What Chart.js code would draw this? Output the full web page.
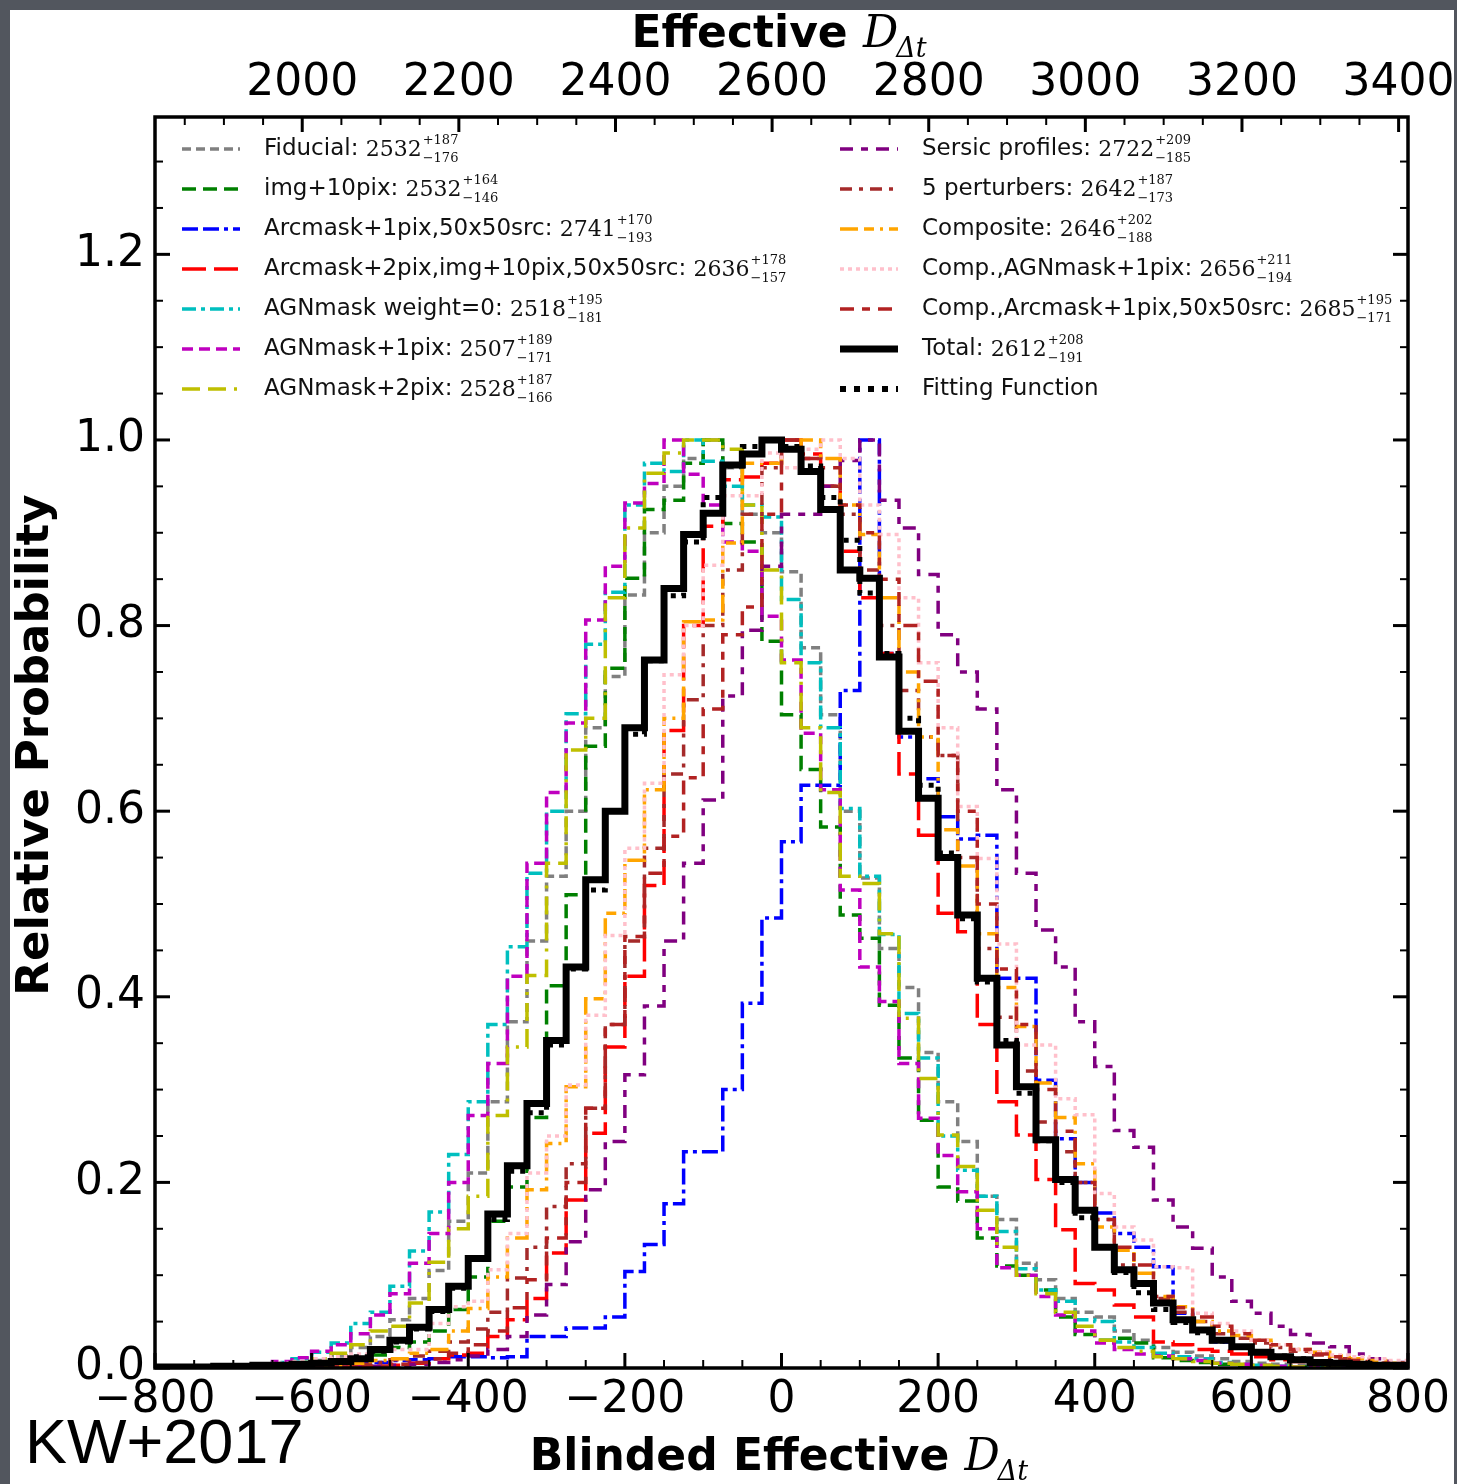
<!DOCTYPE html>
<html>
<head>
<meta charset="utf-8">
<script src="https://cdn.jsdelivr.net/npm/chart.js@4.4.1/dist/chart.umd.min.js"></script>
<style>
  html, body { margin: 0; padding: 0; background: #52565e; }
  body { width: 1457px; height: 1484px; position: relative; overflow: hidden; }
  #wrap { position: absolute; left: 10px; top: 10px; width: 1444px; height: 1474px; background: #fff; }
  canvas { display: block; }
</style>
</head>
<body>
<div id="wrap"><canvas id="dtChart" width="1444" height="1474"></canvas></div>
<script>
// histogram bins: 64 bins of 25 from -800 to 800 (blinded effective D_dt)
const binStart = -800;
const binWidth = 25;
const blindOffset = 2612; // top axis = blinded value + offset

const xTickValues = [-800, -600, -400, -200, 0, 200, 400, 600, 800];
const yTickValues = [0, 0.2, 0.4, 0.6, 0.8, 1.0, 1.2];
const topTickLabels = [2000, 2200, 2400, 2600, 2800, 3000, 3200, 3400];

// relative probability per bin
const fiducial = [0,0,0,0.001,0.001,0.002,0.003,0.005, 0.008,0.013,0.022,0.034,0.052,0.075,0.105,0.158,
  0.21,0.287,0.373,0.46,0.53,0.6,0.69,0.745, 0.833,0.9,0.95,0.98,1.0,0.97,0.92,0.9,
  0.858,0.776,0.704,0.6,0.528,0.452,0.41,0.34, 0.287,0.244,0.185,0.16,0.113,0.095,0.075,0.06,
  0.055,0.04,0.03,0.022,0.017,0.013,0.01,0.007, 0.005,0.004,0.003,0.002,0.001,0.001,0.001,0];
const img10pix = [0,0,0,0,0.001,0.001,0.002,0.003, 0.004,0.006,0.009,0.014,0.022,0.028,0.04,0.063,
  0.098,0.158,0.195,0.27,0.412,0.51,0.67,0.754, 0.851,0.925,0.935,0.975,1.0,0.91,0.89,0.783,
  0.704,0.645,0.583,0.488,0.463,0.391,0.334,0.267, 0.195,0.18,0.14,0.11,0.1,0.084,0.055,0.036,
  0.03,0.032,0.027,0.011,0.008,0.006,0.004,0.003, 0.002,0.001,0.001,0,0,0,0,0];
const arcmask1 = [0,0,0,0,0,0,0,0.001, 0.002,0.003,0.005,0.006,0.008,0.009,0.01,0.012,
  0.012,0.011,0.012,0.034,0.034,0.043,0.043,0.055, 0.104,0.133,0.177,0.233,0.233,0.3,0.393,0.485,
  0.567,0.628,0.628,0.73,1.0,0.77,0.68,0.635, 0.594,0.57,0.574,0.42,0.42,0.31,0.247,0.2,
  0.167,0.145,0.13,0.109,0.059,0.04,0.028,0.022, 0.016,0.011,0.008,0.005,0.004,0.002,0.001,0];
const arcmask2 = [0,0,0,0,0,0,0,0, 0.001,0.001,0.001,0.002,0.003,0.005,0.01,0.014,
  0.016,0.034,0.052,0.075,0.124,0.181,0.253,0.346, 0.422,0.52,0.687,0.8,0.907,0.957,0.96,0.975,
  1.0,0.985,0.95,0.88,0.83,0.77,0.64,0.574, 0.49,0.47,0.37,0.287,0.251,0.203,0.149,0.091,
  0.084,0.068,0.055,0.028,0.025,0.02,0.018,0.015, 0.012,0.009,0.007,0.005,0.004,0.003,0.002,0.001];
const agnWeight0 = [0,0,0,0.001,0.002,0.004,0.006,0.01, 0.017,0.027,0.048,0.06,0.088,0.126,0.168,0.23,
  0.287,0.37,0.454,0.533,0.6,0.705,0.78,0.836, 0.93,0.975,0.966,1.0,0.977,0.95,0.93,0.917,
  0.828,0.76,0.69,0.603,0.53,0.467,0.382,0.334, 0.25,0.213,0.185,0.147,0.107,0.084,0.072,0.052,
  0.05,0.028,0.022,0.016,0.012,0.01,0.006,0.004, 0.003,0.002,0.001,0.001,0,0,0,0];
const agnMask1 = [0,0,0,0.001,0.002,0.004,0.007,0.011, 0.018,0.025,0.037,0.057,0.08,0.113,0.145,0.2,
  0.272,0.328,0.422,0.544,0.62,0.695,0.806,0.864, 0.932,0.953,1.0,0.963,0.93,0.89,0.88,0.81,
  0.763,0.684,0.623,0.515,0.432,0.395,0.328,0.269, 0.229,0.19,0.15,0.108,0.1,0.077,0.057,0.04,
  0.027,0.02,0.015,0.013,0.01,0.008,0.005,0.004, 0.003,0.002,0.001,0.001,0,0,0,0];
const agnMask2 = [0,0,0,0,0.001,0.002,0.004,0.006, 0.01,0.016,0.025,0.04,0.045,0.07,0.114,0.15,
  0.185,0.272,0.346,0.423,0.544,0.666,0.7,0.83, 0.905,0.964,0.986,1.0,1.0,0.99,0.93,0.86,
  0.76,0.69,0.62,0.53,0.522,0.468,0.377,0.312, 0.251,0.217,0.17,0.13,0.1,0.08,0.06,0.045,
  0.03,0.022,0.018,0.012,0.01,0.007,0.005,0.004, 0.003,0.002,0.001,0.001,0,0,0,0];
const sersic = [0,0,0,0,0,0,0,0, 0,0.001,0.001,0.002,0.003,0.004,0.006,0.009,
  0.013,0.02,0.034,0.057,0.09,0.136,0.192,0.244, 0.316,0.39,0.46,0.544,0.612,0.724,0.795,0.864,
  0.92,0.92,0.95,0.978,1.0,0.935,0.905,0.855, 0.79,0.75,0.71,0.623,0.533,0.472,0.432,0.373,
  0.325,0.256,0.238,0.181,0.152,0.129,0.098,0.072, 0.059,0.045,0.036,0.027,0.023,0.015,0.01,0.006];
const perturbers5 = [0,0,0,0,0,0,0.001,0.001, 0.002,0.003,0.004,0.006,0.009,0.013,0.018,0.028,
  0.042,0.06,0.097,0.13,0.174,0.22,0.28,0.37, 0.46,0.56,0.64,0.72,0.8,0.86,0.92,0.97,
  1.0,0.98,0.95,0.92,0.86,0.8,0.73,0.68, 0.66,0.55,0.452,0.378,0.32,0.265,0.233,0.2,
  0.16,0.111,0.09,0.075,0.06,0.05,0.037,0.032, 0.027,0.022,0.018,0.014,0.01,0.007,0.005,0.003];
const composite = [0,0,0,0,0,0,0.001,0.001, 0.002,0.003,0.005,0.008,0.01,0.016,0.02,0.04,
  0.064,0.098,0.14,0.192,0.242,0.303,0.398,0.49, 0.547,0.623,0.7,0.804,0.806,0.889,0.975,0.975,
  0.99,1.0,0.98,0.93,0.898,0.83,0.75,0.68, 0.58,0.541,0.468,0.41,0.368,0.307,0.27,0.22,
  0.152,0.127,0.102,0.077,0.066,0.05,0.04,0.035, 0.03,0.025,0.02,0.017,0.013,0.01,0.008,0.005];
const compAgn1 = [0,0,0,0.001,0.002,0.003,0.005,0.007, 0.01,0.012,0.015,0.018,0.02,0.02,0.048,0.066,
  0.072,0.106,0.145,0.21,0.25,0.305,0.38,0.466, 0.56,0.63,0.747,0.8,0.865,0.94,0.94,0.986,
  0.97,0.99,1.0,0.98,0.93,0.898,0.83,0.76, 0.69,0.605,0.549,0.457,0.348,0.348,0.29,0.273,
  0.188,0.152,0.138,0.109,0.108,0.059,0.048,0.04, 0.03,0.025,0.02,0.017,0.014,0.012,0.01,0.008];
const compArc1 = [0,0,0,0,0,0,0,0, 0.001,0.001,0.001,0.002,0.004,0.006,0.01,0.016,
  0.025,0.04,0.065,0.095,0.14,0.2,0.28,0.37, 0.465,0.533,0.573,0.636,0.71,0.79,0.82,0.92,
  1.0,0.98,0.97,0.93,0.9,0.85,0.8,0.74, 0.66,0.6,0.5,0.43,0.37,0.3,0.255,0.2,
  0.16,0.13,0.111,0.077,0.065,0.055,0.045,0.037, 0.03,0.025,0.02,0.015,0.012,0.008,0.005,0.003];
const total = [0.001,0.001,0.001,0.002,0.002,0.003,0.003,0.004, 0.005,0.007,0.01,0.02,0.03,0.044,0.063,0.088,
  0.118,0.166,0.218,0.285,0.353,0.432,0.526,0.6, 0.69,0.763,0.84,0.898,0.921,0.973,0.985,1.0,
  0.99,0.966,0.925,0.86,0.851,0.766,0.686,0.614, 0.55,0.488,0.42,0.348,0.303,0.246,0.203,0.17,
  0.13,0.106,0.091,0.07,0.052,0.041,0.03,0.023, 0.017,0.012,0.009,0.006,0.005,0.004,0.003,0.003];
const fitting = [0.001,0.001,0.001,0.001,0.002,0.002,0.003,0.004, 0.006,0.008,0.012,0.018,0.028,0.042,0.061,0.086,
  0.118,0.16,0.212,0.275,0.348,0.43,0.515,0.6, 0.683,0.762,0.832,0.89,0.938,0.972,0.993,1.0,
  0.993,0.972,0.938,0.892,0.835,0.77,0.7,0.628, 0.555,0.484,0.416,0.353,0.296,0.245,0.2,0.162,
  0.13,0.103,0.081,0.063,0.049,0.038,0.029,0.022, 0.017,0.013,0.01,0.007,0.006,0.004,0.003,0.002];

// legend text: name, median, +err, -err (null = no numbers)
const seriesNames = ['Fiducial', 'img+10pix', 'Arcmask+1pix,50x50src', 'Arcmask+2pix,img+10pix,50x50src',
  'AGNmask weight=0', 'AGNmask+1pix', 'AGNmask+2pix', 'Sersic profiles', '5 perturbers', 'Composite',
  'Comp.,AGNmask+1pix', 'Comp.,Arcmask+1pix,50x50src', 'Total', 'Fitting Function'];
const medians  = [2532, 2532, 2741, 2636, 2518, 2507, 2528, 2722, 2642, 2646, 2656, 2685, 2612, null];
const errPlus  = [187, 164, 170, 178, 195, 189, 187, 209, 187, 202, 211, 195, 208, null];
const errMinus = [176, 146, 193, 157, 181, 171, 166, 185, 173, 188, 194, 171, 191, null];
const seriesValues = [fiducial, img10pix, arcmask1, arcmask2, agnWeight0, agnMask1, agnMask2,
  sersic, perturbers5, composite, compAgn1, compArc1, total, fitting];

// line styles (matplotlib-ish)
const lineStyles = [
  { color: '#808080', dash: [9, 5], width: 3.5 },
  { color: '#008000', dash: [14, 7], width: 3.5 },
  { color: '#0000ff', dash: [16, 5, 16, 5, 4, 5], width: 3.5 },
  { color: '#ff0000', dash: [24, 8], width: 3.5 },
  { color: '#00bfbf', dash: [14, 5, 4, 5], width: 3.5 },
  { color: '#bf00bf', dash: [11, 6], width: 3.5 },
  { color: '#bfbf00', dash: [18, 8, 18, 8, 3, 8], width: 3.5 },
  { color: '#800080', dash: [13, 8, 7, 8], width: 3.5 },
  { color: '#a52a2a', dash: [12, 7, 4, 7], width: 3.5 },
  { color: '#ffa500', dash: [18, 6, 10, 6, 3, 6], width: 3.5 },
  { color: '#ffc0cb', dash: [4, 4], width: 3.5 },
  { color: '#b22222', dash: [14, 8, 8, 8], width: 3.5 },
  { color: '#000000', dash: [], width: 7 },
  { color: '#000000', dash: [5, 6], width: 5 }
];

function histPoints(vals) {
  const pts = vals.map((v, i) => ({ x: binStart + i * binWidth, y: v }));
  pts.push({ x: binStart + vals.length * binWidth, y: vals[vals.length - 1] });
  return pts;
}

const datasets = seriesValues.map((vals, i) => ({
  label: seriesNames[i],
  data: histPoints(vals),
  borderColor: lineStyles[i].color,
  borderDash: lineStyles[i].dash,
  borderWidth: lineStyles[i].width,
  stepped: 'before',
  pointRadius: 0,
  fill: false,
  order: i === 13 ? 0 : (i === 12 ? 1 : 20 - i)
}));

// math-ish text helpers
function drawDeltaTitle(ctx, text, cx, baseline) {
  const bold = 'bold 44px "DejaVu Sans"';
  const ital = 'italic 44px "DejaVu Serif"';
  const sub = 'italic 27px "DejaVu Serif"';
  ctx.font = bold; const w1 = ctx.measureText(text + ' ').width;
  ctx.font = ital; const w2 = ctx.measureText('D').width;
  ctx.font = sub; const w3 = ctx.measureText('\u0394t').width;
  let x = cx - (w1 + w2 + w3) / 2;
  ctx.textAlign = 'left'; ctx.textBaseline = 'alphabetic';
  ctx.font = bold; ctx.fillText(text + ' ', x, baseline); x += w1;
  ctx.font = ital; ctx.fillText('D', x, baseline); x += w2;
  ctx.font = sub; ctx.fillText('\u0394t', x - 2, baseline + 10);
}

function drawLegendEntry(ctx, ds, i, x, y) {
  ctx.save();
  ctx.strokeStyle = ds.borderColor;
  ctx.lineWidth = i === 13 ? 6 : ds.borderWidth;
  ctx.setLineDash(i === 13 ? [6, 8] : ds.borderDash);
  ctx.beginPath(); ctx.moveTo(x, y); ctx.lineTo(x + 58, y); ctx.stroke();
  ctx.restore();
  let tx = x + 82;
  ctx.fillStyle = '#111';
  ctx.textAlign = 'left'; ctx.textBaseline = 'middle';
  ctx.font = '23px "DejaVu Sans"';
  const name = medians[i] === null ? seriesNames[i] : seriesNames[i] + ': ';
  ctx.fillText(name, tx, y);
  if (medians[i] === null) return;
  tx += ctx.measureText(name).width;
  ctx.font = '22px "DejaVu Serif"';
  ctx.fillText(String(medians[i]), tx, y + 1);
  tx += ctx.measureText(String(medians[i])).width + 1;
  ctx.font = '13px "DejaVu Serif"';
  ctx.fillText('+' + errPlus[i], tx, y - 8);
  ctx.fillText('\u2212' + errMinus[i], tx, y + 10);
}

const decorations = {
  id: 'decorations',
  afterDatasetsDraw(chart) {
    const { ctx, chartArea: a, scales } = chart;
    ctx.save();
    ctx.strokeStyle = '#000';
    const tick = (x1, y1, x2, y2, w) => {
      ctx.lineWidth = w; ctx.beginPath(); ctx.moveTo(x1, y1); ctx.lineTo(x2, y2); ctx.stroke();
    };
    // bottom axis ticks (inward)
    for (let v = -800; v <= 800; v += 50) {
      const px = scales.x.getPixelForValue(v);
      const major = v % 200 === 0;
      tick(px, a.bottom, px, a.bottom - (major ? 15 : 8), major ? 3 : 2);
    }
    // top axis ticks
    for (let d = 1850; d <= 3400; d += 50) {
      const px = scales.x2.getPixelForValue(d - blindOffset);
      if (px < a.left || px > a.right) continue;
      const major = d % 200 === 0;
      tick(px, a.top, px, a.top + (major ? 15 : 8), major ? 3 : 2);
    }
    // left / right ticks
    for (let k = 0; k <= 26; k++) {
      const py = scales.y.getPixelForValue(k * 0.05);
      const major = k % 4 === 0;
      const len = major ? 15 : 8;
      tick(a.left, py, a.left + len, py, major ? 3 : 2);
      tick(a.right, py, a.right - len, py, major ? 3 : 2);
    }
    ctx.lineWidth = 3.5;
    ctx.strokeRect(a.left, a.top, a.right - a.left, a.bottom - a.top);
    ctx.restore();
  },
  afterDraw(chart) {
    const { ctx } = chart;
    ctx.save();
    ctx.fillStyle = '#000';
    drawDeltaTitle(ctx, 'Effective', 770, 37);
    drawDeltaTitle(ctx, 'Blinded Effective', 770, 1460);
    // y title
    ctx.save();
    ctx.translate(38, 735);
    ctx.rotate(-Math.PI / 2);
    ctx.font = 'bold 45px "DejaVu Sans"';
    ctx.textAlign = 'center'; ctx.textBaseline = 'alphabetic';
    ctx.fillText('Relative Probability', 0, 0);
    ctx.restore();
    // credit
    ctx.font = '63px "Liberation Sans"';
    ctx.textAlign = 'left'; ctx.textBaseline = 'alphabetic';
    ctx.fillText('KW+2017', 15, 1453);
    // legend, two columns
    const ds = chart.data.datasets;
    for (let i = 0; i < 7; i++) drawLegendEntry(ctx, ds[i], i, 172, 139 + 40 * i);
    for (let i = 7; i < 14; i++) drawLegendEntry(ctx, ds[i], i, 830, 139 + 40 * (i - 7));
    ctx.restore();
  }
};

const tickFont = { family: 'DejaVu Sans', size: 44 };
const fmtMinus = v => (v < 0 ? '\u2212' + Math.abs(v) : String(v));

new Chart(document.getElementById('dtChart').getContext('2d'), {
  type: 'line',
  data: { datasets: datasets },
  options: {
    responsive: false,
    animation: false,
    events: [],
    layout: { padding: { left: 0, right: 46, top: 0, bottom: 0 } },
    plugins: { legend: { display: false }, tooltip: { enabled: false } },
    scales: {
      x: {
        type: 'linear', position: 'bottom', min: -800, max: 800,
        afterBuildTicks: s => { s.ticks = xTickValues.map(v => ({ value: v })); },
        afterFit: s => { s.height = 116; s.paddingLeft = 0; s.paddingRight = 0; },
        grid: { display: false, drawTicks: false },
        border: { display: false },
        ticks: { font: tickFont, color: '#000', padding: 6, maxRotation: 0, autoSkip: false, callback: v => fmtMinus(v) }
      },
      x2: {
        type: 'linear', position: 'top', min: -800, max: 800,
        afterBuildTicks: s => { s.ticks = topTickLabels.map(d => ({ value: d - blindOffset })); },
        afterFit: s => { s.height = 107; s.paddingLeft = 0; s.paddingRight = 0; },
        grid: { display: false, drawTicks: false },
        border: { display: false },
        ticks: { font: tickFont, color: '#000', padding: 7, maxRotation: 0, autoSkip: false,
          callback: v => String(Math.round(v + blindOffset)) }
      },
      y: {
        type: 'linear', position: 'left', min: 0, max: 1.348,
        afterBuildTicks: s => { s.ticks = yTickValues.map(v => ({ value: v })); },
        afterFit: s => { s.width = 145; },
        grid: { display: false, drawTicks: false },
        border: { display: false },
        ticks: { font: tickFont, color: '#000', padding: 10, callback: v => v.toFixed(1) }
      }
    }
  },
  plugins: [decorations]
});
</script>
</body>
</html>
